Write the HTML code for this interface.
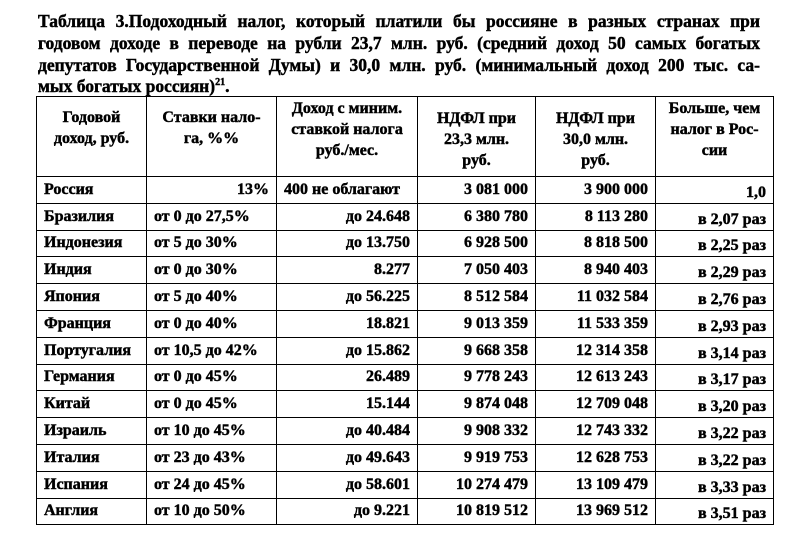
<!DOCTYPE html>
<html><head><meta charset="utf-8"><style>
body{margin:0;background:#fff;width:799px;height:541px;overflow:hidden;font-family:"Liberation Serif","DejaVu Serif",serif;font-weight:bold;color:#000;-webkit-text-stroke:0.45px #000}
.tl{position:absolute;left:38px;font-size:17.5px;line-height:21px;white-space:nowrap;text-align:justify;text-align-last:justify}
table{position:absolute;left:36px;top:96px;border-collapse:collapse;table-layout:fixed;font-size:16px}
td{border:1.5px solid #000;padding:0 7px;white-space:nowrap;vertical-align:middle;line-height:18px;overflow:hidden}
tr{height:26.8px}
tr.h{height:80px}
tr.h td{vertical-align:top;text-align:center;line-height:21px}
.r{text-align:right}.l{text-align:left}
td.b{vertical-align:bottom;padding-bottom:1px}
sup{font-size:10px;line-height:0}
</style></head><body>
<div class="tl" style="top:11px;width:722px">Таблица 3.Подоходный налог, который платили бы россияне в разных странах при</div>
<div class="tl" style="top:33px;width:722px">годовом доходе в переводе на рубли 23,7 млн. руб. (средний доход 50 самых богатых</div>
<div class="tl" style="top:55px;width:722px">депутатов Государственной Думы) и 30,0 млн. руб. (минимальный доход 200 тыс. са-</div>
<div class="tl" style="top:76px;text-align:left;text-align-last:auto">мых богатых россиян)<sup>21</sup>.</div>
<table>
<colgroup><col style="width:110px"><col style="width:130px"><col style="width:141px"><col style="width:118px"><col style="width:120px"><col style="width:118px"></colgroup>
<tr class="h"><td class="l" style="padding-top:10px">Годовой<br>доход, руб.</td><td style="padding-top:10px">Ставки нало-<br>га, %%</td><td style="padding-top:1px">Доход с миним.<br>ставкой налога<br>руб./мес.</td><td style="padding-top:11px">НДФЛ при<br>23,3 млн.<br>руб.</td><td style="padding-top:11px">НДФЛ при<br>30,0 млн.<br>руб.</td><td style="padding-top:1px">Больше, чем<br>налог в Рос-<br>сии</td></tr>
<tr><td>Россия</td><td class="r">13%</td><td>400 не облагают</td><td class="r">3 081 000</td><td class="r">3 900 000</td><td class="r b">1,0</td></tr>
<tr><td>Бразилия</td><td>от 0 до 27,5%</td><td class="r">до 24.648</td><td class="r">6 380 780</td><td class="r">8 113 280</td><td class="r b">в 2,07 раз</td></tr>
<tr><td>Индонезия</td><td>от 5 до 30%</td><td class="r">до 13.750</td><td class="r">6 928 500</td><td class="r">8 818 500</td><td class="r b">в 2,25 раз</td></tr>
<tr><td>Индия</td><td>от 0 до 30%</td><td class="r">8.277</td><td class="r">7 050 403</td><td class="r">8 940 403</td><td class="r b">в 2,29 раз</td></tr>
<tr><td>Япония</td><td>от 5 до 40%</td><td class="r">до 56.225</td><td class="r">8 512 584</td><td class="r">11 032 584</td><td class="r b">в 2,76 раз</td></tr>
<tr><td>Франция</td><td>от 0 до 40%</td><td class="r">18.821</td><td class="r">9 013 359</td><td class="r">11 533 359</td><td class="r b">в 2,93 раз</td></tr>
<tr><td>Португалия</td><td>от 10,5 до 42%</td><td class="r">до 15.862</td><td class="r">9 668 358</td><td class="r">12 314 358</td><td class="r b">в 3,14 раз</td></tr>
<tr><td>Германия</td><td>от 0 до 45%</td><td class="r">26.489</td><td class="r">9 778 243</td><td class="r">12 613 243</td><td class="r b">в 3,17 раз</td></tr>
<tr><td>Китай</td><td>от 0 до 45%</td><td class="r">15.144</td><td class="r">9 874 048</td><td class="r">12 709 048</td><td class="r b">в 3,20 раз</td></tr>
<tr><td>Израиль</td><td>от 10 до 45%</td><td class="r">до 40.484</td><td class="r">9 908 332</td><td class="r">12 743 332</td><td class="r b">в 3,22 раз</td></tr>
<tr><td>Италия</td><td>от 23 до 43%</td><td class="r">до 49.643</td><td class="r">9 919 753</td><td class="r">12 628 753</td><td class="r b">в 3,22 раз</td></tr>
<tr><td>Испания</td><td>от 24 до 45%</td><td class="r">до 58.601</td><td class="r">10 274 479</td><td class="r">13 109 479</td><td class="r b">в 3,33 раз</td></tr>
<tr><td>Англия</td><td>от 10 до 50%</td><td class="r">до 9.221</td><td class="r">10 819 512</td><td class="r">13 969 512</td><td class="r b">в 3,51 раз</td></tr>
</table>
</body></html>
